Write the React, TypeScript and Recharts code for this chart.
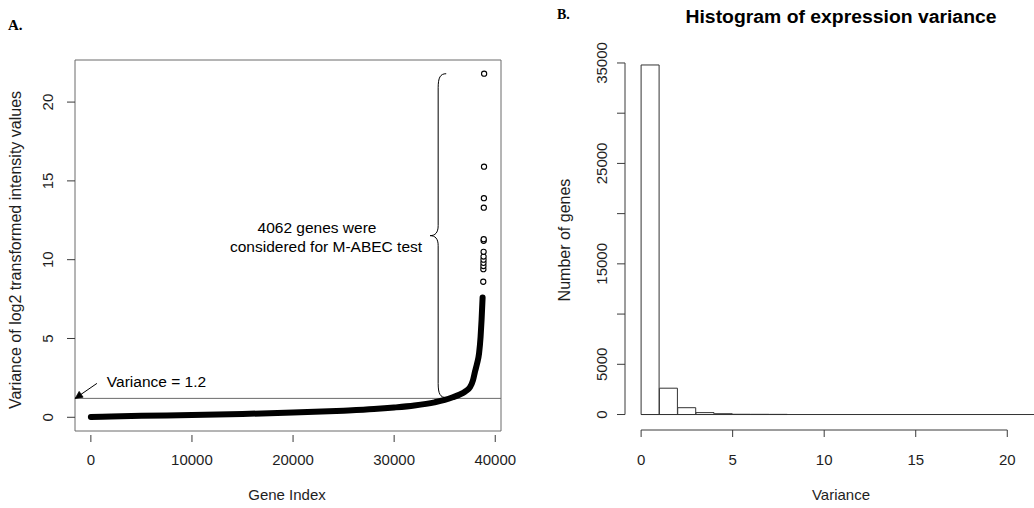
import React from 'react';
import {
  ComposedChart,
  Bar,
  Line,
  Scatter,
  XAxis,
  YAxis,
  ReferenceLine,
  ReferenceArea,
  ReferenceDot,
} from 'recharts';

// ---------- Panel A data ----------
const curveIndex = [0, 2000, 5000, 10000, 15000, 20000, 25000, 28000, 30000, 32000, 34000, 35000, 35800, 36500, 37000, 37500, 37800, 38000, 38200, 38400, 38550, 38650, 38750];
const curveVariance = [0.02, 0.05, 0.09, 0.14, 0.21, 0.3, 0.42, 0.52, 0.62, 0.75, 0.95, 1.1, 1.27, 1.45, 1.62, 1.9, 2.35, 2.9, 3.4, 4.05, 5.1, 6.2, 7.6];
const outlierIndex = [38815, 38825, 38830, 38835, 38840, 38845, 38850, 38855, 38860, 38870, 38880, 38890, 38900];
const outlierVariance = [8.6, 9.4, 9.6, 9.8, 10.0, 10.2, 10.5, 11.2, 11.3, 13.3, 13.9, 15.9, 21.8];
const xTicksA = [0, 10000, 20000, 30000, 40000];
const yTicksA = [0, 5, 10, 15, 20];
const threshold = 1.2;
const selectedGenes = 4062;

// ---------- Panel B data ----------
const binStart = [0, 1, 2, 3, 4, 5, 6, 7, 8, 9, 10, 11, 12, 13, 14, 15, 16, 17, 18, 19, 20, 21];
const binCount = [34800, 2620, 680, 190, 80, 25, 20, 15, 0, 0, 0, 0, 0, 0, 0, 0, 0, 0, 0, 0, 0, 0];
const xTicksB = [0, 5, 10, 15, 20];
const yTicksB = [0, 5000, 10000, 15000, 20000, 25000, 30000, 35000];
const yLabelsB = [0, 5000, 15000, 25000, 35000];

const curveData = curveIndex.map((idx, i) => ({ idx, v: curveVariance[i] }));
const outlierData = outlierIndex.map((idx, i) => ({ idx, v: outlierVariance[i] }));
const histData = binStart.map((b, i) => ({ bin: `${b}-${b + 1}`, mid: b + 0.5, count: binCount[i] }));

const FONT = '"Liberation Sans", Arial, Helvetica, sans-serif';
const TXT = '#1e1e1e';
const AX = '#3a3a3a';
const BOX = '#6a6a6a';

const XDOM_A: [number, number] = [-1570, 40570];
const YDOM_A: [number, number] = [-0.87, 22.67];
const XDOM_B: [number, number] = [-0.88, 22.88];
const YDOM_B: [number, number] = [-1392, 36192];

const XTickA = (p: any) => {
  const { x, y, payload } = p;
  return (
    <g>
      <line x1={x} x2={x} y1={y + 4} y2={y + 11} stroke={AX} strokeWidth={1} />
      <text x={x} y={y + 34} textAnchor="middle" fontFamily={FONT} fontSize={15} fill={TXT}>
        {payload.value}
      </text>
    </g>
  );
};

const YTickA = (p: any) => {
  const { x, y, payload } = p;
  const tx = x - 22;
  return (
    <g>
      <line x1={x - 8} x2={x} y1={y} y2={y} stroke={AX} strokeWidth={1} />
      <text x={tx} y={y} transform={`rotate(-90 ${tx} ${y})`} textAnchor="middle" fontFamily={FONT} fontSize={15} fill={TXT}>
        {payload.value}
      </text>
    </g>
  );
};

const XTickB = (p: any) => {
  const { x, y, payload } = p;
  return (
    <g>
      <line x1={x} x2={x} y1={y + 1.5} y2={y + 8.5} stroke={AX} strokeWidth={1} />
      <text x={x} y={y + 36} textAnchor="middle" fontFamily={FONT} fontSize={15} fill={TXT}>
        {payload.value}
      </text>
    </g>
  );
};

const YTickB = (p: any) => {
  const { x, y, payload } = p;
  const tx = x - 18;
  const show = yLabelsB.includes(payload.value);
  return (
    <g>
      <line x1={x - 8} x2={x} y1={y} y2={y} stroke={AX} strokeWidth={1} />
      {show && (
        <text x={tx} y={y} transform={`rotate(-90 ${tx} ${y})`} textAnchor="middle" fontFamily={FONT} fontSize={15} fill={TXT}>
          {payload.value}
        </text>
      )}
    </g>
  );
};

const Brace = (p: any) => {
  const { x, y, width: w, height: h } = p;
  const xv = x + w / 2;
  const ym = y + h / 2;
  const d = `M ${x + w} ${y} C ${xv + 2} ${y} ${xv} ${y + 4} ${xv} ${y + 14} L ${xv} ${ym - 10} C ${xv} ${ym - 3} ${xv - 3} ${ym} ${x} ${ym} C ${xv - 3} ${ym} ${xv} ${ym + 3} ${xv} ${ym + 10} L ${xv} ${y + h - 14} C ${xv} ${y + h - 4} ${xv + 2} ${y + h} ${x + w} ${y + h}`;
  return <path d={d} fill="none" stroke="#000" strokeWidth={1} />;
};

const Arrow = (p: any) => {
  const { x1, y1, x2, y2 } = p;
  const ang = Math.atan2(y2 - y1, x2 - x1);
  const L = 8;
  const a1 = ang + Math.PI - 0.45;
  const a2 = ang + Math.PI + 0.45;
  return (
    <g>
      <line x1={x1} y1={y1} x2={x2} y2={y2} stroke="#000" strokeWidth={1} />
      <polygon
        points={`${x2},${y2} ${x2 + L * Math.cos(a1)},${y2 + L * Math.sin(a1)} ${x2 + L * Math.cos(a2)},${y2 + L * Math.sin(a2)}`}
        fill="#000"
        stroke="#000"
        strokeWidth={0.8}
      />
    </g>
  );
};

const textShape = (label: string, anchor: 'start' | 'middle') => (p: any) => (
  <text x={p.cx} y={p.cy} textAnchor={anchor} fontFamily={FONT} fontSize={15.5} fill="#000">
    {label}
  </text>
);

const OpenCircle = (p: any) => (
  <circle cx={p.cx} cy={p.cy} r={2.6} fill="#fff" stroke="#000" strokeWidth={1.1} />
);

export default function App() {
  return (
    <div style={{ position: 'absolute', left: 0, top: 0, width: 1034, height: 508, overflow: 'hidden', background: '#fff' }}>
      {/* Panel A */}
      <div style={{ position: 'absolute', left: 0, top: 0 }}>
        <ComposedChart width={520} height={508} data={curveData} margin={{ top: 60, right: 19, bottom: 37, left: 35 }}>
          <XAxis
            dataKey="idx"
            type="number"
            domain={XDOM_A}
            allowDataOverflow
            ticks={xTicksA}
            interval={0}
            height={40}
            tickSize={0}
            tickMargin={0}
            axisLine={false}
            tickLine={false}
            tick={<XTickA />}
          />
          <YAxis
            type="number"
            domain={YDOM_A}
            allowDataOverflow
            ticks={yTicksA}
            interval={0}
            width={40}
            tickSize={0}
            tickMargin={0}
            axisLine={false}
            tickLine={false}
            tick={<YTickA />}
          />
          <ReferenceArea x1={XDOM_A[0]} x2={XDOM_A[1]} y1={YDOM_A[0]} y2={YDOM_A[1]} fill="none" stroke={BOX} strokeWidth={1} ifOverflow="visible" />
          <ReferenceLine y={threshold} stroke={BOX} strokeWidth={1} />
          <Line dataKey="v" type="monotone" stroke="#000" strokeWidth={6} strokeLinecap="round" strokeLinejoin="round" dot={false} isAnimationActive={false} />
          <Scatter data={outlierData} dataKey="v" shape={OpenCircle} isAnimationActive={false} />
          <ReferenceArea x1={33560} x2={35150} y1={threshold + 0.05} y2={21.8} shape={Brace} ifOverflow="visible" />
          <ReferenceLine
            segment={[{ x: 600, y: 2.15 }, { x: XDOM_A[0] + 20, y: threshold }]}
            shape={Arrow}
            ifOverflow="visible"
          />
          <ReferenceDot x={1580} y={1.9} r={0} shape={textShape(`Variance = ${threshold}`, 'start')} ifOverflow="visible" />
          <ReferenceDot x={22370} y={11.7} r={0} shape={textShape(`${selectedGenes} genes were`, 'middle')} ifOverflow="visible" />
          <ReferenceDot x={23260} y={10.5} r={0} shape={textShape('considered for M-ABEC test', 'middle')} ifOverflow="visible" />
        </ComposedChart>
      </div>

      {/* Panel B */}
      <div style={{ position: 'absolute', left: 520, top: 0 }}>
        <ComposedChart width={560} height={508} data={histData} barCategoryGap={0} barGap={0} margin={{ top: 51, right: 20, bottom: 39.5, left: 65 }}>
          <XAxis xAxisId="bins" dataKey="bin" type="category" orientation="top" height={0} hide padding={{ left: 16.1, right: 16.1 }} />
          <XAxis
            xAxisId="num"
            dataKey="mid"
            type="number"
            domain={XDOM_B}
            allowDataOverflow
            ticks={xTicksB}
            interval={0}
            height={40}
            tickSize={0}
            tickMargin={0}
            axisLine={false}
            tickLine={false}
            tick={<XTickB />}
          />
          <YAxis
            type="number"
            domain={YDOM_B}
            allowDataOverflow
            ticks={yTicksB}
            interval={0}
            width={40}
            tickSize={0}
            tickMargin={0}
            axisLine={false}
            tickLine={false}
            tick={<YTickB />}
          />
          <Bar xAxisId="bins" dataKey="count" fill="#fff" stroke="#333" strokeWidth={1} isAnimationActive={false} />
          <ReferenceLine xAxisId="num" segment={[{ x: 0, y: 0 }, { x: 22, y: 0 }]} stroke="#333" strokeWidth={1} ifOverflow="visible" />
          <ReferenceLine xAxisId="num" segment={[{ x: XDOM_B[0], y: 0 }, { x: XDOM_B[0], y: 35000 }]} stroke={AX} strokeWidth={1} ifOverflow="visible" />
          <ReferenceLine xAxisId="num" segment={[{ x: 0, y: YDOM_B[0] - 150 }, { x: 20, y: YDOM_B[0] - 150 }]} stroke={AX} strokeWidth={1} ifOverflow="visible" />
        </ComposedChart>
      </div>

      {/* Titles and labels */}
      <svg width={1034} height={508} style={{ position: 'absolute', left: 0, top: 0, pointerEvents: 'none' }}>
        <text x={8} y={30} fontFamily='"Liberation Serif", "Times New Roman", serif' fontWeight="bold" fontSize={15} fill="#000">A.</text>
        <text x={557} y={19} fontFamily='"Liberation Serif", "Times New Roman", serif' fontWeight="bold" fontSize={14} fill="#000">B.</text>
        <text x={841} y={23} textAnchor="middle" fontFamily={FONT} fontWeight="bold" fontSize={17.5} textLength={311} lengthAdjust="spacingAndGlyphs" fill="#000">
          Histogram of expression variance
        </text>
        <text x={21} y={250} transform="rotate(-90 21 250)" textAnchor="middle" fontFamily={FONT} fontSize={16} fill={TXT}>
          Variance of log2 transformed intensity values
        </text>
        <text x={287} y={500} textAnchor="middle" fontFamily={FONT} fontSize={15} fill={TXT}>Gene Index</text>
        <text x={570} y={240} transform="rotate(-90 570 240)" textAnchor="middle" fontFamily={FONT} fontSize={16} fill={TXT}>
          Number of genes
        </text>
        <text x={841} y={500} textAnchor="middle" fontFamily={FONT} fontSize={15} fill={TXT}>Variance</text>
      </svg>
    </div>
  );
}
